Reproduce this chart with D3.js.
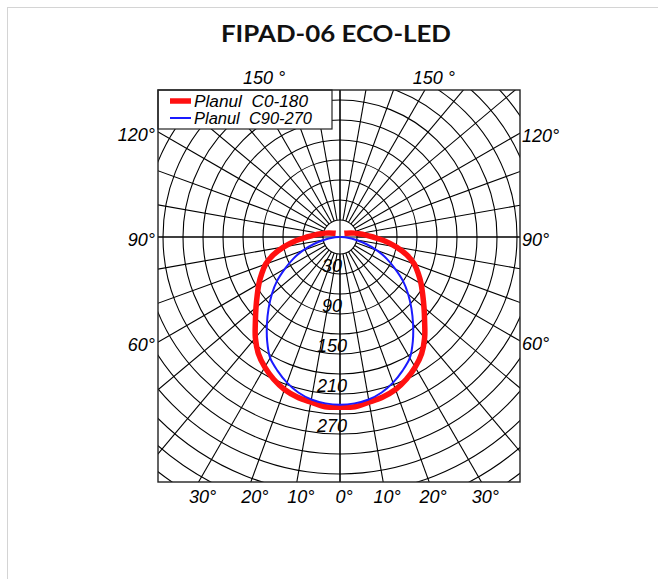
<!DOCTYPE html>
<html>
<head>
<meta charset="utf-8">
<script src="https://cdn.jsdelivr.net/npm/d3@7"></script>
<style>
  body { margin: 0; background: #fff; }
  .title { font-family: Lato, "Open Sans", sans-serif; font-weight: 700; font-size: 23px; fill: #111; }
  .lbl { font-family: "Liberation Sans", Arial, sans-serif; font-style: italic; font-weight: 400; font-size: 18px; fill: #000; white-space: pre; }
  .legend-lbl { font-size: 16px; }
</style>
</head>
<body>
<svg id="chart"></svg>
<script>
// ---- data ----
const chartTitle = 'FIPAD-06 ECO-LED';
const seriesNames = ['Planul  C0-180', 'Planul  C90-270'];
const seriesColors = ['#ff1010', '#1a1aff'];

// gamma angle (deg from nadir) and luminous intensity (cd)
const gammaAngles = [0, 5, 10, 15, 20, 25, 30, 35, 40, 45, 50, 55, 60, 65, 70, 75, 80, 85, 90, 95, 100, 105, 110, 120, 130];
const c0Values   = [260, 260, 256, 253, 248, 240, 230, 218, 202, 184, 169, 156, 145, 134, 123, 108, 90, 72, 54, 42, 33, 27, 22, 16, 13];
const c90Values  = [256, 255, 252, 246, 237, 226, 214, 195, 175, 156, 138, 120, 100, 82, 64, 45, 28, 16, 7, 5, 5, 5, 5, 5, 5];

const ringValues = [30, 60, 90, 120, 150, 180, 210, 240, 270, 300, 330, 360, 390, 420, 450];
const ringLabels = [30, 90, 150, 210, 270];
const bottomTicks = [0, 10, 20, 30];
const sideTicks = [60, 90, 120];
const topTicks = [150];

class PolarDiagram {
  constructor(_config) {
    this.config = {
      parentElement: _config.parentElement,
      width: 658,
      height: 579,
      cx: 340,
      cy: 237,
      frame: { left: 158, right: 520, top: 90, bottom: 482 }
    };
    this.initVis();
  }

  initVis() {
    let vis = this;
    const c = vis.config;

    vis.svg = d3.select(c.parentElement)
      .attr('width', c.width)
      .attr('height', c.height);

    // card outline
    vis.svg.append('rect')
      .attr('x', 7.5).attr('y', 7.5)
      .attr('width', 800).attr('height', 800)
      .attr('fill', 'none')
      .attr('stroke', '#d4d4d4');

    vis.svg.append('text')
      .attr('class', 'title')
      .attr('x', 336).attr('y', 42)
      .attr('text-anchor', 'middle')
      .attr('textLength', 230)
      .attr('lengthAdjust', 'spacingAndGlyphs')
      .text(chartTitle);

    // radius: 30 cd -> 17px, 300 cd -> 197px
    vis.rScale = d3.scaleLinear().domain([30, 300]).range([17, 197]);
    vis.r = v => Math.max(0, vis.rScale(v));

    vis.chart = vis.svg.append('g')
      .attr('transform', `translate(${c.cx},${c.cy})`);

    const f = {
      x0: c.frame.left - c.cx, x1: c.frame.right - c.cx,
      y0: c.frame.top - c.cy, y1: c.frame.bottom - c.cy
    };
    vis.f = f;

    vis.svg.append('clipPath').attr('id', 'frame-clip')
      .append('rect')
      .attr('x', f.x0).attr('y', f.y0)
      .attr('width', f.x1 - f.x0).attr('height', f.y1 - f.y0);

    vis.grid = vis.chart.append('g').attr('clip-path', 'url(#frame-clip)');
    vis.curves = vis.chart.append('g');
    vis.legend = vis.chart.append('g');
    vis.labels = vis.chart.append('g');
  }

  renderVis() {
    let vis = this;
    const f = vis.f;

    // circles
    vis.grid.selectAll('.ring')
      .data(ringValues)
      .join('circle')
      .attr('class', 'ring')
      .attr('r', d => vis.r(d))
      .attr('fill', 'none')
      .attr('stroke', '#000')
      .attr('stroke-width', 1.1);

    // spokes every 10 degrees, starting at the first ring
    const spokes = d3.range(0, 360, 10);
    vis.grid.selectAll('.spoke')
      .data(spokes)
      .join('line')
      .attr('class', 'spoke')
      .attr('x1', d => vis.r(30) * Math.sin(d * Math.PI / 180))
      .attr('y1', d => vis.r(30) * Math.cos(d * Math.PI / 180))
      .attr('x2', d => 500 * Math.sin(d * Math.PI / 180))
      .attr('y2', d => 500 * Math.cos(d * Math.PI / 180))
      .attr('stroke', '#000')
      .attr('stroke-width', 1.1);

    // main axes
    vis.grid.append('line')
      .attr('x1', f.x0).attr('x2', f.x1).attr('y1', 0).attr('y2', 0)
      .attr('stroke', '#000').attr('stroke-width', 1.1);
    vis.grid.append('line')
      .attr('x1', 0).attr('x2', 0).attr('y1', f.y0).attr('y2', f.y1)
      .attr('stroke', '#000').attr('stroke-width', 1.1);

    // frame
    vis.chart.append('rect')
      .attr('x', f.x0).attr('y', f.y0)
      .attr('width', f.x1 - f.x0).attr('height', f.y1 - f.y0)
      .attr('fill', 'none')
      .attr('stroke', '#222')
      .attr('stroke-width', 1.4);

    // ring value labels
    vis.labels.selectAll('.ring-label')
      .data(ringLabels)
      .join('text')
      .attr('class', 'lbl')
      .attr('x', -8)
      .attr('y', d => vis.r(d) + 18)
      .attr('text-anchor', 'middle')
      .text(d => d);

    // curves (symmetric about nadir)
    const toPoints = vals => {
      const half = gammaAngles.map((g, i) => [g, vals[i]]);
      const left = half.slice(1).reverse().map(([g, v]) => [-g, v]);
      return left.concat(half);
    };
    const line = d3.lineRadial()
      .angle(d => Math.PI - d[0] * Math.PI / 180)
      .radius(d => vis.r(d[1]))
      .curve(d3.curveCatmullRom);

    const series = [
      { name: seriesNames[0], color: seriesColors[0], width: 5.5, pts: toPoints(c0Values) },
      { name: seriesNames[1], color: seriesColors[1], width: 2, pts: toPoints(c90Values).filter(d => Math.abs(d[0]) <= 95) }
    ];

    vis.curves.selectAll('.curve')
      .data(series)
      .join('path')
      .attr('class', 'curve')
      .attr('d', d => line(d.pts))
      .attr('fill', 'none')
      .attr('stroke', d => d.color)
      .attr('stroke-width', d => d.width);

    // legend
    const lx = f.x0, ly = f.y0;
    vis.legend.append('rect')
      .attr('x', lx).attr('y', ly)
      .attr('width', 174).attr('height', 39)
      .attr('fill', '#fff')
      .attr('stroke', '#222')
      .attr('stroke-width', 1.2);
    const items = vis.legend.selectAll('.item')
      .data(series)
      .join('g')
      .attr('class', 'item')
      .attr('transform', (d, i) => `translate(${lx},${ly + 11 + i * 17})`);
    items.append('line')
      .attr('x1', 12).attr('x2', 33)
      .attr('stroke', d => d.color)
      .attr('stroke-width', d => d.width);
    items.append('text')
      .attr('class', 'lbl legend-lbl')
      .attr('x', 36).attr('y', 6)
      .attr('textLength', (d, i) => i === 0 ? 114 : 118)
      .attr('lengthAdjust', 'spacingAndGlyphs')
      .text(d => d.name);

    // angle labels on the frame
    const rad = a => a * Math.PI / 180;
    bottomTicks.forEach(a => {
      const sides = a === 0 ? [1] : [-1, 1];
      sides.forEach(s => {
        const x = s * f.y1 * Math.tan(rad(a));
        vis.labels.append('text')
          .attr('class', 'lbl')
          .attr('x', x + 4).attr('y', f.y1 + 21)
          .attr('text-anchor', 'middle')
          .text(`${a}°`);
      });
    });
    sideTicks.forEach(a => {
      const yl = -f.x0 / Math.tan(rad(a));
      const yr = f.x1 / Math.tan(rad(a));
      vis.labels.append('text')
        .attr('class', 'lbl')
        .attr('x', f.x0 - 3).attr('y', yl + 9)
        .attr('text-anchor', 'end')
        .text(`${a}°`);
      vis.labels.append('text')
        .attr('class', 'lbl')
        .attr('x', f.x1 + 2).attr('y', yr + 9)
        .attr('text-anchor', 'start')
        .text(`${a}°`);
    });
    topTicks.forEach(a => {
      const dx = f.y0 * Math.tan(rad(a));
      [-1, 1].forEach(s => {
        vis.labels.append('text')
          .attr('class', 'lbl')
          .attr('x', s * dx + 9).attr('y', f.y0 - 6)
          .attr('text-anchor', 'middle')
          .text(`${a} °`);
      });
    });
  }
}

const diagram = new PolarDiagram({ parentElement: '#chart' });
diagram.renderVis();
</script>
</body>
</html>
